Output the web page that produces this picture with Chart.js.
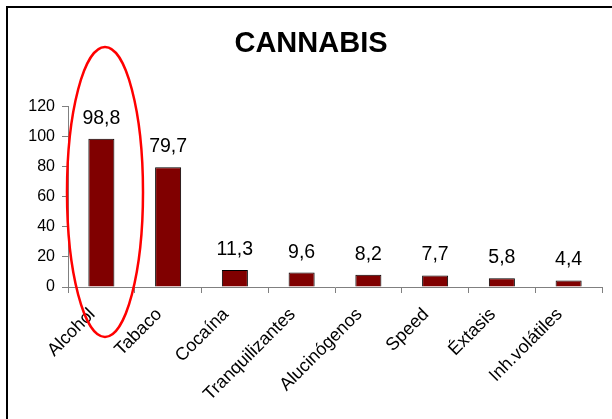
<!DOCTYPE html>
<html>
<head>
<meta charset="utf-8">
<script src="https://cdn.jsdelivr.net/npm/chart.js@4"></script>
<style>
  html, body { margin: 0; padding: 0; background: #fff; overflow: hidden; }
  #wrap { position: relative; width: 612px; height: 419px; }
  #frame { position: absolute; left: 6px; top: 6px; width: 700px; height: 500px; border: 2px solid #000; }
  canvas { position: absolute; left: 0; top: 0; }
</style>
</head>
<body>
<div id="wrap">
  <div id="frame"></div>
  <canvas id="cannabis-canv" width="612" height="419"></canvas>
</div>
<script>
const labels = ['Alcohol', 'Tabaco', 'Cocaína', 'Tranquilizantes', 'Alucinógenos', 'Speed', 'Éxtasis', 'Inh.volátiles'];
const values = [98.8, 79.7, 11.3, 9.6, 8.2, 7.7, 5.8, 4.4];
const yTicks = [0, 20, 40, 60, 80, 100, 120];

const barRed = '#800000';
const axisGray = '#808080';
const font = "'Liberation Sans', Arial, sans-serif";

// value labels above each bar, with a decimal comma
const valueLabels = {
    id: 'valueLabels',
    afterDatasetsDraw(chart) {
        const ctx = chart.ctx;
        const meta = chart.getDatasetMeta(0);
        ctx.save();
        ctx.font = '19.5px ' + font;
        ctx.fillStyle = '#000';
        ctx.textAlign = 'center';
        ctx.textBaseline = 'alphabetic';
        meta.data.forEach((bar, i) => {
            ctx.fillText(values[i].toFixed(1).replace('.', ','), bar.x, bar.y - 15);
        });
        ctx.restore();
    }
};

// red hand-drawn ring around the first bar
const ring = {
    id: 'ring',
    afterDraw(chart) {
        const ctx = chart.ctx;
        ctx.save();
        ctx.strokeStyle = '#ff0000';
        ctx.lineWidth = 2.5;
        ctx.beginPath();
        ctx.ellipse(105, 192, 38, 145, 0, 0, Math.PI * 2);
        ctx.stroke();
        ctx.restore();
    }
};

const data = {
    labels: labels,
    datasets: [{
        data: values,
        backgroundColor: barRed,
        borderColor: '#000',
        borderWidth: 1,
        categoryPercentage: 1,
        barPercentage: 0.39
    }]
};

const config = {
    type: 'bar',
    data,
    options: {
        animation: false,
        responsive: false,
        layout: { padding: { left: 20, right: 10, top: 0, bottom: 0 } },
        scales: {
            x: {
                grid: {
                    display: true,
                    drawOnChartArea: false,
                    drawTicks: true,
                    tickLength: 6,
                    color: axisGray,
                    offset: true
                },
                border: { display: true, color: axisGray, width: 1 },
                ticks: {
                    font: { size: 18, family: font },
                    color: '#000',
                    minRotation: 45,
                    maxRotation: 45,
                    autoSkip: false,
                    padding: 11,
                    labelOffset: -9
                },
                afterFit(scale) { scale.height = 132; }
            },
            y: {
                min: 0,
                max: 120,
                afterBuildTicks(scale) { scale.ticks = yTicks.map(v => ({ value: v })); },
                grid: {
                    display: true,
                    drawOnChartArea: false,
                    drawTicks: true,
                    tickLength: 6,
                    color: axisGray
                },
                border: { display: true, color: axisGray, width: 1 },
                ticks: {
                    font: { size: 16, family: font },
                    color: '#000',
                    padding: 7
                },
                afterFit(scale) { scale.width = 48; }
            }
        },
        plugins: {
            legend: { display: false },
            tooltip: { enabled: false },
            title: {
                display: true,
                text: 'CANNABIS',
                color: '#000',
                font: { size: 29, weight: 'bold', family: font },
                padding: { top: 27, bottom: 45 }
            }
        }
    },
    plugins: [valueLabels, ring]
};

new Chart(document.getElementById('cannabis-canv'), config);
</script>
</body>
</html>
